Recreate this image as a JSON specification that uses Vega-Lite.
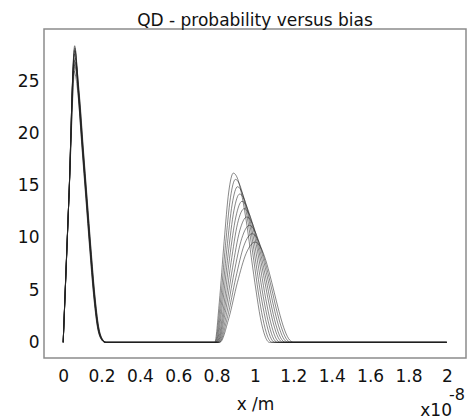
{
  "$schema": "https://vega.github.io/schema/vega-lite/v6.json",
  "autosize": "none",
  "width": 422,
  "height": 329,
  "padding": {"left": 44, "top": 29, "right": 1, "bottom": 61},
  "background": "white",
  "config": {
    "font": "DejaVu Sans",
    "view": {"stroke": "#8c8c8c", "strokeWidth": 1.5},
    "axis": {"domain": false, "ticks": false, "grid": false, "labelFont": "DejaVu Sans", "labelFontSize": 17, "labelColor": "#111", "titleFont": "DejaVu Sans", "titleFontSize": 17, "titleFontWeight": "normal", "titleColor": "#111"},
    "title": {"font": "DejaVu Sans", "fontSize": 17, "fontWeight": "normal", "color": "#111"},
    "text": {"font": "DejaVu Sans", "fontWeight": "normal"}
  },
  "title": {"text": "QD - probability versus bias", "anchor": "middle", "frame": "group", "baseline": "alphabetic", "offset": 6, "dy": 20},
  "layer": [
    {
      "data": {"values": [
        {"s":0,"x":0,"y":0},{"s":0,"x":0.03,"y":13.9},{"s":0,"x":0.06,"y":28.4},{"s":0,"x":0.08,"y":23.6},{"s":0,"x":0.1,"y":18.6},{"s":0,"x":0.12,"y":13.8},{"s":0,"x":0.14,"y":9.0},{"s":0,"x":0.16,"y":4.6},{"s":0,"x":0.18,"y":1.5},{"s":0,"x":0.2,"y":0.3},{"s":0,"x":0.22,"y":0},
        {"s":0,"x":0.79,"y":0},{"s":0,"x":0.814,"y":3.84},{"s":0,"x":0.839,"y":9.64},{"s":0,"x":0.863,"y":14.39},{"s":0,"x":0.887,"y":16.2},{"s":0,"x":0.911,"y":15.58},{"s":0,"x":0.934,"y":13.83},{"s":0,"x":0.958,"y":11.19},{"s":0,"x":0.981,"y":8.1},{"s":0,"x":1.005,"y":5.01},{"s":0,"x":1.028,"y":2.37},{"s":0,"x":1.052,"y":0.62},{"s":0,"x":1.075,"y":0},{"s":0,"x":2.0,"y":0},

        {"s":1,"x":0,"y":0},{"s":1,"x":0.03,"y":13.9},{"s":1,"x":0.058,"y":27.6},{"s":1,"x":0.082,"y":23.6},{"s":1,"x":0.102,"y":18.6},{"s":1,"x":0.122,"y":13.8},{"s":1,"x":0.142,"y":9.0},{"s":1,"x":0.162,"y":4.6},{"s":1,"x":0.182,"y":1.5},{"s":1,"x":0.202,"y":0.3},{"s":1,"x":0.222,"y":0},
        {"s":1,"x":0.793,"y":0},{"s":1,"x":0.819,"y":3.7},{"s":1,"x":0.846,"y":9.28},{"s":1,"x":0.872,"y":13.85},{"s":1,"x":0.898,"y":15.6},{"s":1,"x":0.922,"y":15.01},{"s":1,"x":0.946,"y":13.32},{"s":1,"x":0.97,"y":10.78},{"s":1,"x":0.994,"y":7.8},{"s":1,"x":1.017,"y":4.82},{"s":1,"x":1.041,"y":2.28},{"s":1,"x":1.065,"y":0.59},{"s":1,"x":1.089,"y":0},{"s":1,"x":2.0,"y":0},

        {"s":2,"x":0,"y":0},{"s":2,"x":0.03,"y":13.9},{"s":2,"x":0.062,"y":27.9},{"s":2,"x":0.079,"y":23.6},{"s":2,"x":0.099,"y":18.6},{"s":2,"x":0.119,"y":13.8},{"s":2,"x":0.139,"y":9.0},{"s":2,"x":0.159,"y":4.6},{"s":2,"x":0.179,"y":1.5},{"s":2,"x":0.199,"y":0.3},{"s":2,"x":0.219,"y":0},
        {"s":2,"x":0.796,"y":0},{"s":2,"x":0.824,"y":3.53},{"s":2,"x":0.853,"y":8.87},{"s":2,"x":0.881,"y":13.23},{"s":2,"x":0.909,"y":14.9},{"s":2,"x":0.933,"y":14.33},{"s":2,"x":0.958,"y":12.72},{"s":2,"x":0.982,"y":10.3},{"s":2,"x":1.006,"y":7.45},{"s":2,"x":1.03,"y":4.6},{"s":2,"x":1.055,"y":2.18},{"s":2,"x":1.079,"y":0.57},{"s":2,"x":1.103,"y":0},{"s":2,"x":2.0,"y":0},

        {"s":3,"x":0,"y":0},{"s":3,"x":0.03,"y":13.9},{"s":3,"x":0.056,"y":26.6},{"s":3,"x":0.083,"y":23.6},{"s":3,"x":0.103,"y":18.6},{"s":3,"x":0.123,"y":13.8},{"s":3,"x":0.143,"y":9.0},{"s":3,"x":0.163,"y":4.6},{"s":3,"x":0.183,"y":1.5},{"s":3,"x":0.203,"y":0.3},{"s":3,"x":0.223,"y":0},
        {"s":3,"x":0.799,"y":0},{"s":3,"x":0.829,"y":3.37},{"s":3,"x":0.86,"y":8.45},{"s":3,"x":0.89,"y":12.61},{"s":3,"x":0.92,"y":14.2},{"s":3,"x":0.945,"y":13.66},{"s":3,"x":0.969,"y":12.13},{"s":3,"x":0.994,"y":9.81},{"s":3,"x":1.019,"y":7.1},{"s":3,"x":1.043,"y":4.39},{"s":3,"x":1.068,"y":2.07},{"s":3,"x":1.092,"y":0.54},{"s":3,"x":1.117,"y":0},{"s":3,"x":2.0,"y":0},

        {"s":4,"x":0,"y":0},{"s":4,"x":0.03,"y":13.9},{"s":4,"x":0.063,"y":27.2},{"s":4,"x":0.081,"y":23.6},{"s":4,"x":0.101,"y":18.6},{"s":4,"x":0.121,"y":13.8},{"s":4,"x":0.141,"y":9.0},{"s":4,"x":0.161,"y":4.6},{"s":4,"x":0.181,"y":1.5},{"s":4,"x":0.201,"y":0.3},{"s":4,"x":0.221,"y":0},
        {"s":4,"x":0.802,"y":0},{"s":4,"x":0.835,"y":3.2},{"s":4,"x":0.867,"y":8.03},{"s":4,"x":0.9,"y":11.99},{"s":4,"x":0.932,"y":13.5},{"s":4,"x":0.957,"y":12.99},{"s":4,"x":0.982,"y":11.53},{"s":4,"x":1.007,"y":9.33},{"s":4,"x":1.032,"y":6.75},{"s":4,"x":1.056,"y":4.17},{"s":4,"x":1.081,"y":1.97},{"s":4,"x":1.106,"y":0.51},{"s":4,"x":1.131,"y":0},{"s":4,"x":2.0,"y":0},

        {"s":5,"x":0,"y":0},{"s":5,"x":0.03,"y":13.9},{"s":5,"x":0.059,"y":28.0},{"s":5,"x":0.084,"y":23.6},{"s":5,"x":0.104,"y":18.6},{"s":5,"x":0.124,"y":13.8},{"s":5,"x":0.144,"y":9.0},{"s":5,"x":0.164,"y":4.6},{"s":5,"x":0.184,"y":1.5},{"s":5,"x":0.204,"y":0.3},{"s":5,"x":0.224,"y":0},
        {"s":5,"x":0.805,"y":0},{"s":5,"x":0.84,"y":3.03},{"s":5,"x":0.875,"y":7.62},{"s":5,"x":0.909,"y":11.37},{"s":5,"x":0.944,"y":12.8},{"s":5,"x":0.969,"y":12.31},{"s":5,"x":0.994,"y":10.93},{"s":5,"x":1.019,"y":8.84},{"s":5,"x":1.045,"y":6.4},{"s":5,"x":1.07,"y":3.96},{"s":5,"x":1.095,"y":1.87},{"s":5,"x":1.12,"y":0.49},{"s":5,"x":1.145,"y":0},{"s":5,"x":2.0,"y":0},

        {"s":6,"x":0,"y":0},{"s":6,"x":0.03,"y":13.9},{"s":6,"x":0.055,"y":26.0},{"s":6,"x":0.078,"y":23.6},{"s":6,"x":0.098,"y":18.6},{"s":6,"x":0.118,"y":13.8},{"s":6,"x":0.138,"y":9.0},{"s":6,"x":0.158,"y":4.6},{"s":6,"x":0.178,"y":1.5},{"s":6,"x":0.198,"y":0.3},{"s":6,"x":0.218,"y":0},
        {"s":6,"x":0.808,"y":0},{"s":6,"x":0.845,"y":2.84},{"s":6,"x":0.883,"y":7.14},{"s":6,"x":0.92,"y":10.66},{"s":6,"x":0.957,"y":12.0},{"s":6,"x":0.982,"y":11.54},{"s":6,"x":1.007,"y":10.25},{"s":6,"x":1.032,"y":8.29},{"s":6,"x":1.058,"y":6.0},{"s":6,"x":1.083,"y":3.71},{"s":6,"x":1.108,"y":1.75},{"s":6,"x":1.133,"y":0.46},{"s":6,"x":1.158,"y":0},{"s":6,"x":2.0,"y":0},

        {"s":7,"x":0,"y":0},{"s":7,"x":0.03,"y":13.9},{"s":7,"x":0.061,"y":28.2},{"s":7,"x":0.082,"y":23.6},{"s":7,"x":0.102,"y":18.6},{"s":7,"x":0.122,"y":13.8},{"s":7,"x":0.142,"y":9.0},{"s":7,"x":0.162,"y":4.6},{"s":7,"x":0.182,"y":1.5},{"s":7,"x":0.202,"y":0.3},{"s":7,"x":0.222,"y":0},
        {"s":7,"x":0.811,"y":0},{"s":7,"x":0.851,"y":2.65},{"s":7,"x":0.891,"y":6.66},{"s":7,"x":0.931,"y":9.95},{"s":7,"x":0.971,"y":11.2},{"s":7,"x":0.996,"y":10.77},{"s":7,"x":1.021,"y":9.56},{"s":7,"x":1.046,"y":7.74},{"s":7,"x":1.072,"y":5.6},{"s":7,"x":1.097,"y":3.46},{"s":7,"x":1.122,"y":1.64},{"s":7,"x":1.147,"y":0.43},{"s":7,"x":1.172,"y":0},{"s":7,"x":2.0,"y":0},

        {"s":8,"x":0,"y":0},{"s":8,"x":0.03,"y":13.9},{"s":8,"x":0.064,"y":26.8},{"s":8,"x":0.085,"y":23.6},{"s":8,"x":0.105,"y":18.6},{"s":8,"x":0.125,"y":13.8},{"s":8,"x":0.145,"y":9.0},{"s":8,"x":0.165,"y":4.6},{"s":8,"x":0.185,"y":1.5},{"s":8,"x":0.205,"y":0.3},{"s":8,"x":0.225,"y":0},
        {"s":8,"x":0.814,"y":0},{"s":8,"x":0.857,"y":2.46},{"s":8,"x":0.9,"y":6.19},{"s":8,"x":0.942,"y":9.24},{"s":8,"x":0.985,"y":10.4},{"s":8,"x":1.01,"y":10.0},{"s":8,"x":1.035,"y":8.88},{"s":8,"x":1.06,"y":7.19},{"s":8,"x":1.086,"y":5.2},{"s":8,"x":1.111,"y":3.21},{"s":8,"x":1.136,"y":1.52},{"s":8,"x":1.161,"y":0.4},{"s":8,"x":1.186,"y":0},{"s":8,"x":2.0,"y":0},

        {"s":9,"x":0,"y":0},{"s":9,"x":0.03,"y":13.9},{"s":9,"x":0.057,"y":27.0},{"s":9,"x":0.081,"y":23.6},{"s":9,"x":0.101,"y":18.6},{"s":9,"x":0.121,"y":13.8},{"s":9,"x":0.141,"y":9.0},{"s":9,"x":0.161,"y":4.6},{"s":9,"x":0.181,"y":1.5},{"s":9,"x":0.201,"y":0.3},{"s":9,"x":0.221,"y":0},
        {"s":9,"x":0.817,"y":0},{"s":9,"x":0.863,"y":2.28},{"s":9,"x":0.908,"y":5.71},{"s":9,"x":0.954,"y":8.52},{"s":9,"x":1.0,"y":9.6},{"s":9,"x":1.025,"y":9.24},{"s":9,"x":1.05,"y":8.2},{"s":9,"x":1.075,"y":6.63},{"s":9,"x":1.1,"y":4.8},{"s":9,"x":1.125,"y":2.97},{"s":9,"x":1.15,"y":1.4},{"s":9,"x":1.175,"y":0.36},{"s":9,"x":1.2,"y":0},{"s":9,"x":2.0,"y":0}
      ]},
      "mark": {"type": "line", "interpolate": "monotone", "color": "#222", "strokeWidth": 0.9, "opacity": 0.6},
      "encoding": {
        "x": {"field": "x", "type": "quantitative", "scale": {"domain": [-0.1, 2.1], "nice": false, "zero": false},
              "axis": {"values": [0, 0.2, 0.4, 0.6, 0.8, 1, 1.2, 1.4, 1.6, 1.8, 2], "format": "~g", "title": "x /m", "labelPadding": 10, "titlePadding": 12, "labelFlush": false}},
        "y": {"field": "y", "type": "quantitative", "scale": {"domain": [-1.5, 30], "nice": false, "zero": false},
              "axis": {"values": [0, 5, 10, 15, 20, 25], "title": null, "labelPadding": 5}},
        "detail": {"field": "s", "type": "nominal"}
      }
    },
    {
      "data": {"values": [{"t": "x10", "x": 2.1, "y": -1.5}]},
      "mark": {"type": "text", "align": "right", "baseline": "alphabetic", "dx": -14, "dy": 58, "fontSize": 17, "fontWeight": "normal", "color": "#111"},
      "encoding": {"x": {"field": "x", "type": "quantitative"}, "y": {"field": "y", "type": "quantitative"}, "text": {"field": "t"}}
    },
    {
      "data": {"values": [{"t": "-8", "x": 2.1, "y": -1.5}]},
      "mark": {"type": "text", "align": "right", "baseline": "alphabetic", "dx": -1, "dy": 42, "fontSize": 16, "fontWeight": "normal", "color": "#111"},
      "encoding": {"x": {"field": "x", "type": "quantitative"}, "y": {"field": "y", "type": "quantitative"}, "text": {"field": "t"}}
    }
  ]
}
